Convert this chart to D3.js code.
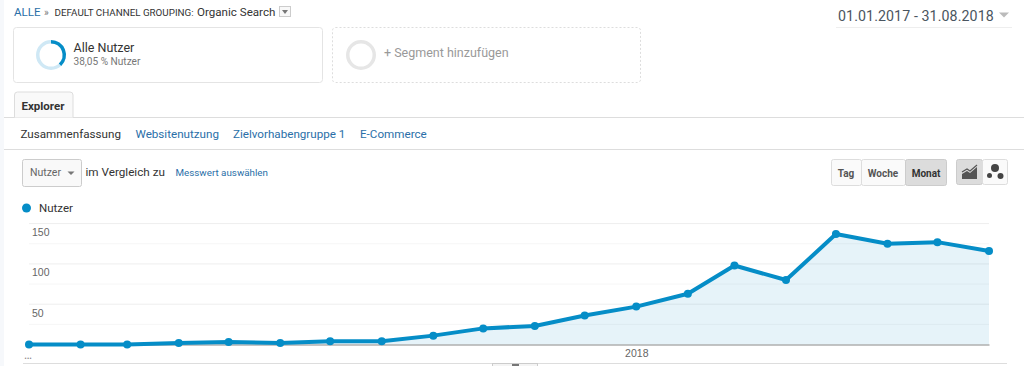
<!DOCTYPE html>
<html>
<head>
<meta charset="utf-8">
<script src="https://cdnjs.cloudflare.com/ajax/libs/d3/7.8.5/d3.min.js"></script>
<style>
  html, body { margin: 0; padding: 0; background: #fff; overflow: hidden; }
  svg { display: block; font-family: Roboto, sans-serif; }
  .axis text { font-size: 10.5px; fill: #666; }
</style>
</head>
<body>
<svg id="chart" width="1024" height="366"></svg>
<script>
// values
const months = ['2017-01', '2017-02', '2017-03', '2017-04', '2017-05', '2017-06', '2017-07', '2017-08', '2017-09', '2017-10',
  '2017-11', '2017-12', '2018-01', '2018-02', '2018-03', '2018-04', '2018-05', '2018-06', '2018-07', '2018-08']
const nutzer = [0, 0, 0, 2, 3, 2, 4, 4, 11, 20, 23, 36, 47, 63, 98, 80, 137, 125, 127, 116]
const yTicks = [50, 100, 150]
const yGrid = [25, 50, 75, 100, 125, 150]
const tabs = ['Zusammenfassung', 'Websitenutzung', 'Zielvorhabengruppe 1', 'E-Commerce']
const periods = ['Tag', 'Woche', 'Monat']

const blue = '#058dc7'
const parse = d3.utcParse('%Y-%m')
const data = months.map((m, i) => ({ date: parse(m), value: nutzer[i] }))

const svg = d3.select('#chart')

// Setup scales
const x = d3.scaleUtc().domain(d3.extent(data, d => d.date)).range([29, 989])
const y = d3.scaleLinear().domain([0, 150]).range([344.5, 223.6])

// small helper for the page furniture
function label(s, tx, ty, size, color, weight) {
  return svg.append('text').attr('x', tx).attr('y', ty)
    .attr('font-size', size).attr('fill', color)
    .attr('font-weight', weight || 400).text(s)
}

function hline(x1, x2, yy, color) {
  svg.append('line').attr('x1', x1).attr('x2', x2).attr('y1', yy).attr('y2', yy).attr('stroke', color)
}

// pale strip on the left edge
svg.append('rect').attr('width', 4).attr('height', 366).attr('fill', '#f6f8fb')

// Breadcrumb
label('ALLE', 14, 16, 11.5, '#2a6fa8')
label('»', 44, 16, 10, '#777')
label('DEFAULT CHANNEL GROUPING:', 54.5, 16, 9.8, '#333')
label('Organic Search', 197, 16, 11.6, '#333')
svg.append('rect').attr('x', 279.5).attr('y', 6.5).attr('width', 11).attr('height', 10)
  .attr('fill', '#f8f8f8').attr('stroke', '#ccc')
svg.append('path').attr('d', 'M282 10h6l-3 4z').attr('fill', '#777')

// Date range
label('01.01.2017 - 31.08.2018', 838, 20.5, 14.2, '#4a5560').attr('letter-spacing', 0.1)
svg.append('path').attr('d', 'M999 12.5h10l-5 5z').attr('fill', '#bbb')
hline(836, 1012, 27.5, '#eee')

// Segment boxes
svg.append('rect').attr('x', 13.5).attr('y', 27.5).attr('width', 309).attr('height', 55).attr('rx', 3)
  .attr('fill', '#fff').attr('stroke', '#e4e4e4')
svg.append('rect').attr('x', 332.5).attr('y', 27.5).attr('width', 308).attr('height', 55).attr('rx', 3)
  .attr('fill', '#fff').attr('stroke', '#ddd').attr('stroke-dasharray', '2,2')

// Segment donut, 38,05 % share
const share = 0.3805
const arc = d3.arc().innerRadius(11.5).outerRadius(15)
const seg = svg.append('g').attr('transform', 'translate(51,55)')
seg.append('path').attr('d', arc({ startAngle: 0, endAngle: Math.PI * 2 })).attr('fill', '#cfe8f5')
seg.append('path').attr('d', arc({ startAngle: 0, endAngle: Math.PI * 2 * share })).attr('fill', blue)
svg.append('g').attr('transform', 'translate(361,55)')
  .append('path').attr('d', arc({ startAngle: 0, endAngle: Math.PI * 2 })).attr('fill', '#e6e6e6')

label('Alle Nutzer', 73.5, 52, 12.5, '#333')
label('38,05 % Nutzer', 73.5, 65, 10.1, '#777')
label('+ Segment hinzufügen', 384, 56.5, 12.5, '#999')

// Explorer tab
hline(4, 1024, 117.5, '#ddd')
svg.append('path').attr('d', 'M14.5 117.5V95a3 3 0 0 1 3-3H70a3 3 0 0 1 3 3v22.5')
  .attr('fill', '#f9f9f9').attr('stroke', '#ddd')
label('Explorer', 21.5, 110, 11.5, '#333', 700)

// Sub tabs
const tabX = [20.5, 135.5, 233, 360]
tabs.forEach((t, i) => label(t, tabX[i], 137.5, 11.65, i ? '#2a6fa8' : '#333'))
hline(4, 1024, 149.5, '#ddd')

// Metric selector
svg.append('rect').attr('x', 22.5).attr('y', 159.5).attr('width', 59).attr('height', 27).attr('rx', 2)
  .attr('fill', '#f9f9f9').attr('stroke', '#ccc')
label('Nutzer', 30, 176, 10.5, '#666')
svg.append('path').attr('d', 'M67.5 171.5h7l-3.5 3.5z').attr('fill', '#777')
label('im Vergleich zu', 85.5, 175.5, 11.7, '#333')
label('Messwert auswählen', 175.5, 176, 9.8, '#2a6fa8')

// Period buttons
const periodX = [831, 861, 905, 947]
periods.forEach((p, i) => {
  const on = p === 'Monat'
  svg.append('rect').attr('x', periodX[i] + 0.5).attr('y', 159.5)
    .attr('width', periodX[i + 1] - periodX[i] - (i === 2 ? 1 : 0)).attr('height', 26)
    .attr('rx', 2).attr('fill', on ? '#dcdcdc' : '#fafafa').attr('stroke', on ? '#ccc' : '#ddd')
  svg.append('text').attr('x', (periodX[i] + periodX[i + 1]) / 2).attr('y', 176.5)
    .attr('text-anchor', 'middle').attr('font-size', 10).attr('font-weight', 700)
    .attr('fill', on ? '#333' : '#555').text(p)
})

// Chart type buttons
svg.append('rect').attr('x', 956.5).attr('y', 159.5).attr('width', 26).attr('height', 25).attr('rx', 2)
  .attr('fill', '#dcdcdc').attr('stroke', '#ccc')
svg.append('rect').attr('x', 982.5).attr('y', 159.5).attr('width', 25).attr('height', 25).attr('rx', 2)
  .attr('fill', '#fafafa').attr('stroke', '#ddd')
svg.append('path').attr('d', 'M962 179v-5l5-3 3 2 7-6v12z').attr('fill', '#555')
svg.append('path').attr('d', 'M962 172l5-3 3 2 7-6').attr('fill', 'none').attr('stroke', '#555').attr('stroke-width', 1.2)
svg.append('circle').attr('cx', 995).attr('cy', 168).attr('r', 4).attr('fill', '#444')
svg.append('circle').attr('cx', 989.5).attr('cy', 175.5).attr('r', 2.5).attr('fill', '#444')
svg.append('circle').attr('cx', 1000.5).attr('cy', 176).attr('r', 3).attr('fill', '#444')

// Legend
svg.append('circle').attr('cx', 26.5).attr('cy', 208).attr('r', 4.5).attr('fill', blue)
label('Nutzer', 39, 212, 11.5, '#333')

// Grid lines
svg.append('g').selectAll('line').data(yGrid).join('line')
  .attr('x1', 29).attr('x2', 989)
  .attr('y1', d => y(d)).attr('y2', d => y(d))
  .attr('stroke', d => d % 50 ? '#f6f6f6' : '#eeeeee')

// Area and line
const area = d3.area().x(d => x(d.date)).y0(y(0)).y1(d => y(d.value))
const line = d3.line().x(d => x(d.date)).y(d => y(d.value))

svg.append('path').datum(data).attr('d', area).attr('fill', blue).attr('fill-opacity', 0.1)

// Axes, the y labels sit just under their grid line
const yAxis = svg.append('g').attr('class', 'axis')
  .attr('transform', 'translate(29,0)')
  .call(d3.axisRight(y).tickValues(yTicks).tickSize(0))
yAxis.select('.domain').remove()
yAxis.selectAll('text').attr('x', 3).attr('dy', 12)

const xAxis = svg.append('g').attr('class', 'axis')
  .attr('transform', 'translate(0,' + y(0) + ')')
  .call(d3.axisBottom(x).tickValues([parse('2018-01')]).tickFormat(d3.utcFormat('%Y')).tickSize(0).tickPadding(5))
xAxis.select('.domain').attr('stroke', '#888').attr('stroke-width', 1)

label('…', 24, 359, 12, '#888')

svg.append('path').datum(data).attr('d', line)
  .attr('fill', 'none').attr('stroke', blue).attr('stroke-width', 4).attr('stroke-linejoin', 'round')

svg.append('g').selectAll('circle').data(data).join('circle')
  .attr('cx', d => x(d.date)).attr('cy', d => y(d.value)).attr('r', 4).attr('fill', blue)

// Slider rail under the chart
hline(23, 1007, 363.5, '#ddd')
svg.append('rect').attr('x', 492.5).attr('y', 363.5).attr('width', 45).attr('height', 6)
  .attr('fill', '#f4f4f4').attr('stroke', '#ccc')
svg.append('rect').attr('x', 512).attr('y', 364).attr('width', 7).attr('height', 2).attr('fill', '#777')
</script>
</body>
</html>
